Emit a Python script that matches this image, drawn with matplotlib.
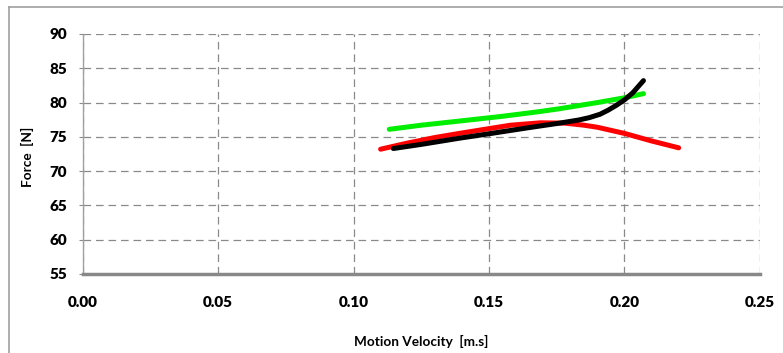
import matplotlib.pyplot as plt
from matplotlib.lines import Line2D

plt.rcParams['font.family'] = ['Lato', 'DejaVu Sans']
plt.rcParams['lines.scale_dashes'] = False

# valores
red_x = [0.110, 0.120, 0.130, 0.139, 0.150, 0.158, 0.169, 0.178, 0.185, 0.190, 0.200, 0.210, 0.220]
red_y = [73.2, 74.1, 74.9, 75.5, 76.2, 76.7, 77.05, 77.0, 76.7, 76.4, 75.5, 74.4, 73.4]

green_x = [0.1132, 0.125, 0.139, 0.155, 0.169, 0.176, 0.190, 0.200, 0.207]
green_y = [76.1, 76.7, 77.3, 78.0, 78.7, 79.1, 80.0, 80.7, 81.3]

black_x = [0.1147, 0.125, 0.139, 0.150, 0.164, 0.176, 0.183, 0.187, 0.191, 0.194, 0.197, 0.200, 0.203, 0.207]
black_y = [73.3, 73.9, 74.8, 75.45, 76.3, 77.0, 77.45, 77.8, 78.3, 78.9, 79.6, 80.4, 81.4, 83.2]

x_ticks = [0.00, 0.05, 0.10, 0.15, 0.20, 0.25]
y_ticks = [55, 60, 65, 70, 75, 80, 85, 90]

fig = plt.figure(figsize=(7.83, 3.53), dpi=100)
ax = fig.add_axes([0.1054, 0.2238, 0.8652, 0.6799])

ax.plot(red_x, red_y, color='#ff0000', lw=3.6, solid_capstyle='round', zorder=3)
ax.plot(green_x, green_y, color='#00ee00', lw=3.6, solid_capstyle='round', zorder=4)
ax.plot(black_x, black_y, color='black', lw=3.6, solid_capstyle='round', zorder=5)

ax.set_xlim(0, 0.25)
ax.set_ylim(55, 90)
ax.set_xticks(x_ticks)
ax.set_yticks(y_ticks)
ax.set_xticklabels([f"{v:.2f}" for v in x_ticks])
ax.set_yticklabels([str(v) for v in y_ticks])

ax.grid(True, color='#8a8a8a', lw=0.9, linestyle=(0, (5.5, 3.5)))
ax.set_axisbelow(True)
ax.tick_params(axis='x', length=0, pad=16, labelsize=11)
ax.tick_params(axis='y', length=3, color='#8a8a8a', pad=8, labelsize=11)
for lab in ax.get_xticklabels() + ax.get_yticklabels():
    lab.set_fontweight('heavy')

for s in ['top', 'right']:
    ax.spines[s].set_visible(False)
ax.spines['left'].set_color('#a0a0a0')
ax.spines['left'].set_linewidth(1)
ax.spines['bottom'].set_color('#888888')
ax.spines['bottom'].set_linewidth(2.5)

fig.text(421 / 783, 1 - 341 / 353, "Motion Velocity  [m.s]", fontsize=9.8, fontweight='bold',
         ha='center', va='center')
fig.text(27 / 783, 1 - 157 / 353, "Force  [N]", fontsize=9.8, fontweight='bold',
         ha='center', va='center', rotation=90)

# marco exterior del gráfico
fig.add_artist(Line2D([9 / 783, 1.0], [1 - 7 / 353, 1 - 7 / 353], color='#a0a0a0', lw=1.2, transform=fig.transFigure))
fig.add_artist(Line2D([9 / 783, 9 / 783], [0, 1 - 7 / 353], color='#a0a0a0', lw=1.2, transform=fig.transFigure))

plt.savefig("out.png", dpi=100)
plt.close()
